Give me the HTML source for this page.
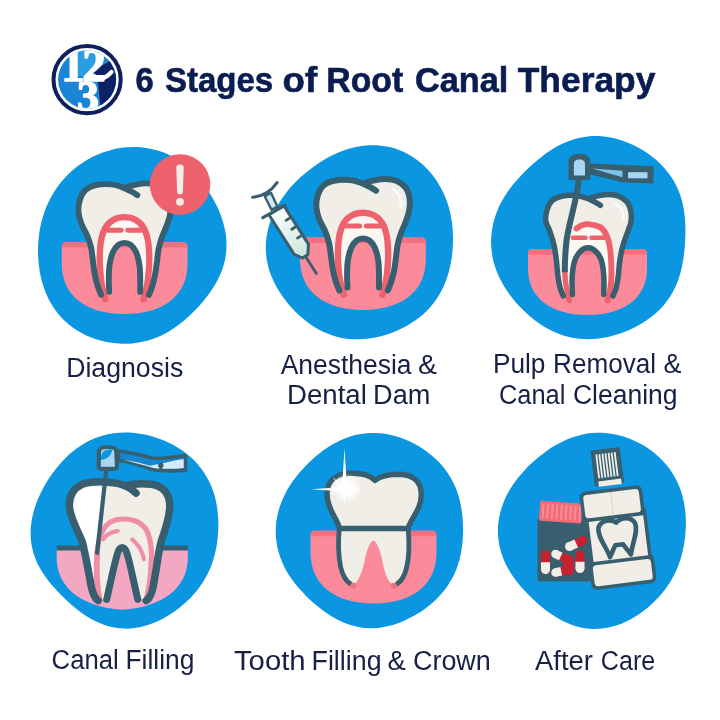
<!DOCTYPE html>
<html lang="en">
<head>
<meta charset="utf-8">
<title>6 Stages of Root Canal Therapy</title>
<style>
html,body{margin:0;padding:0;background:#fff;}
body{width:720px;height:720px;overflow:hidden;}
svg{display:block;will-change:transform;}
text{font-family:"Liberation Sans",sans-serif;fill:#0b1d50;}
.t{font-weight:bold;font-size:35px;stroke:#0b1d50;stroke-width:0.6px;}
.l{font-size:27px;fill:#172045;}
text.lg{font-family:"Liberation Serif",serif;font-weight:bold;fill:#fff;stroke:#fff;stroke-width:1.5px;stroke-linejoin:round;}
</style>
</head>
<body>
<svg width="720" height="720" viewBox="0 0 720 720">
<rect width="720" height="720" fill="#fff"/>
<linearGradient id="syr" x1="0" y1="0" x2="0" y2="1"><stop offset="0" stop-color="#fafdfc"/><stop offset="1" stop-color="#cfe6da"/></linearGradient>
<radialGradient id="glow"><stop offset="0" stop-color="#fff" stop-opacity="1"/><stop offset="0.4" stop-color="#fff" stop-opacity="0.95"/><stop offset="0.7" stop-color="#fff" stop-opacity="0.5"/><stop offset="1" stop-color="#fff" stop-opacity="0"/></radialGradient>

<g>
<circle cx="87.1" cy="79.6" r="33.6" fill="#fff" stroke="#0d1f5c" stroke-width="4"/>
<clipPath id="lc"><circle cx="87.1" cy="79.6" r="29"/></clipPath>
<g clip-path="url(#lc)">
<rect x="50" y="44" width="75" height="72" fill="#1a84d6" stroke="none"/>
<path d="M78,44 H103 V64 L90,76 H78 Z" fill="#2b9de2" stroke="none"/>
<path d="M113,59 L93,71 L98,82 L101,112 L125,112 L125,50 Z" fill="#0e2166" stroke="none"/>
<text class="lg" x="73" y="80.5" text-anchor="middle" style="font-size:47px">1</text>
<path d="M93,75.5 Q102,82.5 111.5,72" fill="none" stroke="#fff" stroke-width="4.2" stroke-linecap="round"/>
<text class="lg" x="94" y="80.5" text-anchor="middle" style="font-size:47px">2</text>
<text class="lg" x="88" y="111" text-anchor="middle" style="font-size:44px">3</text>
</g>
</g>

<text class="t" y="92.3"><tspan x="135.45" textLength="18.23" lengthAdjust="spacingAndGlyphs">6</tspan> <tspan x="164.91" textLength="108.29" lengthAdjust="spacingAndGlyphs">Stages</tspan> <tspan x="282.63" textLength="34.63" lengthAdjust="spacingAndGlyphs">of</tspan> <tspan x="326.30" textLength="77.00" lengthAdjust="spacingAndGlyphs">Root</tspan> <tspan x="414.93" textLength="93.49" lengthAdjust="spacingAndGlyphs">Canal</tspan> <tspan x="517.75" textLength="137.64" lengthAdjust="spacingAndGlyphs">Therapy</tspan></text>
<path d="M38.1,245.7 C38.3,242.4 38.5,239.1 38.9,235.9 C39.3,232.6 39.8,229.4 40.5,226.2 C41.1,223.0 41.9,219.8 42.9,216.7 C43.8,213.5 44.9,210.4 46.1,207.4 C47.4,204.3 48.8,201.3 50.3,198.4 C51.8,195.5 53.5,192.6 55.3,189.9 C57.2,187.1 59.2,184.4 61.3,181.8 C63.4,179.3 65.7,176.8 68.0,174.4 C70.4,172.1 72.9,169.9 75.6,167.8 C78.2,165.7 80.9,163.7 83.8,161.9 C86.6,160.0 89.6,158.4 92.6,156.8 C95.7,155.3 98.8,154.0 102.0,152.8 C105.2,151.6 108.5,150.6 111.8,149.7 C115.1,148.9 118.5,148.2 121.9,147.8 C125.3,147.3 128.7,147.1 132.2,147.0 C135.6,146.9 139.1,147.1 142.5,147.4 C145.9,147.8 149.3,148.4 152.7,149.2 C156.0,149.9 159.3,150.9 162.6,152.1 C165.8,153.3 168.9,154.7 171.9,156.3 C175.0,157.9 177.9,159.7 180.7,161.6 C183.5,163.6 186.1,165.7 188.7,167.9 C191.2,170.1 193.6,172.5 195.9,174.9 C198.2,177.3 200.3,179.9 202.3,182.5 C204.4,185.1 206.3,187.8 208.1,190.5 C209.9,193.3 211.6,196.1 213.1,198.9 C214.7,201.8 216.2,204.7 217.6,207.6 C218.9,210.6 220.2,213.6 221.3,216.7 C222.4,219.8 223.4,222.9 224.1,226.1 C224.9,229.3 225.5,232.6 226.0,235.8 C226.4,239.1 226.6,242.4 226.5,245.7 C226.5,248.9 226.3,252.3 225.8,255.5 C225.3,258.8 224.6,262.0 223.7,265.1 C222.8,268.3 221.7,271.4 220.4,274.3 C219.1,277.3 217.6,280.2 216.0,283.0 C214.5,285.8 212.7,288.5 210.9,291.1 C209.1,293.7 207.2,296.3 205.2,298.7 C203.2,301.2 201.2,303.6 199.1,305.9 C197.0,308.2 194.8,310.5 192.5,312.7 C190.3,314.9 188.0,317.1 185.6,319.2 C183.2,321.3 180.7,323.3 178.1,325.2 C175.5,327.1 172.8,329.0 170.0,330.7 C167.2,332.4 164.3,334.0 161.3,335.4 C158.3,336.8 155.2,338.1 152.0,339.2 C148.9,340.2 145.6,341.1 142.3,341.8 C139.0,342.5 135.6,343.0 132.2,343.4 C128.8,343.7 125.3,343.8 121.9,343.7 C118.4,343.6 114.9,343.3 111.5,342.8 C108.1,342.4 104.6,341.7 101.3,340.8 C97.9,339.9 94.5,338.9 91.2,337.6 C88.0,336.3 84.8,334.8 81.7,333.1 C78.6,331.5 75.6,329.6 72.7,327.5 C69.9,325.4 67.1,323.1 64.6,320.7 C62.1,318.3 59.7,315.7 57.5,312.9 C55.3,310.2 53.3,307.3 51.5,304.3 C49.7,301.3 48.1,298.2 46.7,295.0 C45.3,291.8 44.1,288.6 43.1,285.3 C42.0,282.1 41.2,278.8 40.5,275.4 C39.8,272.1 39.3,268.8 38.9,265.5 C38.5,262.2 38.3,258.9 38.1,255.6 C38.0,252.2 38.0,248.9 38.1,245.7 Z" fill="#0a96e0"/>
<path d="M266.0,242.0 C266.3,238.8 266.7,235.6 267.4,232.4 C268.0,229.3 268.8,226.1 269.8,223.1 C270.8,220.1 271.9,217.1 273.2,214.2 C274.5,211.4 275.9,208.6 277.4,205.8 C279.0,203.1 280.6,200.5 282.4,198.0 C284.1,195.4 286.0,193.0 287.9,190.6 C289.8,188.2 291.9,185.9 293.9,183.7 C296.0,181.5 298.2,179.4 300.4,177.3 C302.7,175.3 305.0,173.3 307.4,171.4 C309.7,169.5 312.2,167.6 314.7,165.9 C317.2,164.1 319.8,162.4 322.5,160.8 C325.2,159.1 327.9,157.6 330.8,156.1 C333.6,154.7 336.5,153.3 339.6,152.1 C342.6,150.8 345.7,149.7 348.9,148.7 C352.1,147.8 355.3,147.0 358.7,146.4 C362.0,145.8 365.4,145.4 368.8,145.2 C372.3,145.1 375.8,145.1 379.2,145.4 C382.6,145.7 386.1,146.3 389.5,147.1 C392.9,147.9 396.3,148.9 399.5,150.2 C402.8,151.5 406.0,153.0 409.0,154.8 C412.1,156.5 415.0,158.5 417.8,160.6 C420.6,162.7 423.3,165.0 425.7,167.5 C428.2,170.0 430.6,172.6 432.7,175.3 C434.9,178.1 436.8,180.9 438.6,183.9 C440.4,186.8 442.1,189.9 443.5,193.0 C445.0,196.1 446.2,199.3 447.3,202.5 C448.4,205.7 449.3,209.0 450.1,212.3 C450.9,215.6 451.4,218.9 451.9,222.2 C452.4,225.5 452.7,228.8 452.8,232.1 C453.0,235.4 453.1,238.7 453.0,242.0 C452.9,245.3 452.7,248.6 452.4,251.9 C452.1,255.1 451.7,258.4 451.1,261.6 C450.5,264.9 449.8,268.1 449.0,271.3 C448.1,274.5 447.1,277.7 445.9,280.8 C444.7,284.0 443.4,287.1 441.9,290.0 C440.3,293.0 438.6,295.9 436.7,298.7 C434.9,301.5 432.8,304.2 430.6,306.7 C428.4,309.3 426.0,311.7 423.5,314.0 C420.9,316.2 418.3,318.3 415.5,320.3 C412.8,322.2 409.9,324.0 407.0,325.7 C404.0,327.3 401.0,328.8 397.9,330.2 C394.9,331.6 391.7,332.8 388.5,333.9 C385.3,335.0 382.1,335.9 378.8,336.7 C375.5,337.5 372.2,338.1 368.8,338.5 C365.5,339.0 362.1,339.3 358.7,339.3 C355.3,339.4 351.9,339.2 348.5,338.9 C345.1,338.5 341.7,337.9 338.4,337.2 C335.1,336.4 331.9,335.3 328.7,334.1 C325.6,332.9 322.5,331.5 319.5,329.9 C316.6,328.3 313.7,326.6 310.9,324.7 C308.2,322.8 305.5,320.8 303.0,318.6 C300.5,316.5 298.0,314.3 295.7,311.9 C293.4,309.6 291.1,307.2 289.0,304.7 C286.9,302.2 284.9,299.6 283.0,297.0 C281.1,294.3 279.3,291.6 277.6,288.8 C276.0,286.0 274.4,283.1 273.1,280.1 C271.7,277.1 270.5,274.1 269.5,271.0 C268.5,267.9 267.7,264.7 267.1,261.5 C266.5,258.3 266.1,255.0 265.9,251.7 C265.7,248.5 265.8,245.2 266.0,242.0 Z" fill="#0a96e0"/>
<path d="M491.2,237.5 C491.4,234.1 491.8,230.8 492.4,227.4 C493.0,224.1 493.8,220.9 494.8,217.7 C495.8,214.5 497.0,211.4 498.3,208.3 C499.6,205.3 501.1,202.4 502.8,199.5 C504.4,196.7 506.2,194.0 508.0,191.3 C509.9,188.7 511.8,186.1 513.9,183.6 C515.9,181.2 518.0,178.8 520.2,176.5 C522.4,174.1 524.6,171.9 526.9,169.6 C529.2,167.4 531.5,165.3 534.0,163.1 C536.4,161.0 538.9,158.9 541.5,156.9 C544.1,154.9 546.7,152.9 549.5,151.1 C552.3,149.2 555.2,147.4 558.2,145.8 C561.2,144.2 564.4,142.7 567.6,141.5 C570.8,140.2 574.2,139.1 577.6,138.3 C581.0,137.4 584.5,136.8 588.0,136.4 C591.5,136.1 595.1,136.0 598.7,136.1 C602.2,136.3 605.8,136.7 609.3,137.3 C612.8,137.9 616.3,138.8 619.7,139.8 C623.2,140.9 626.5,142.2 629.8,143.6 C633.1,145.0 636.3,146.6 639.5,148.3 C642.6,150.1 645.7,152.0 648.6,154.1 C651.5,156.1 654.4,158.4 657.1,160.8 C659.8,163.2 662.4,165.7 664.7,168.4 C667.1,171.1 669.3,174.0 671.3,177.0 C673.3,180.0 675.1,183.1 676.6,186.3 C678.2,189.5 679.5,192.9 680.6,196.3 C681.7,199.6 682.6,203.1 683.3,206.5 C684.0,210.0 684.4,213.5 684.8,216.9 C685.1,220.4 685.3,223.8 685.4,227.3 C685.5,230.7 685.4,234.1 685.3,237.5 C685.2,240.9 685.0,244.3 684.7,247.7 C684.4,251.0 684.0,254.4 683.5,257.8 C683.0,261.2 682.4,264.6 681.7,267.9 C680.9,271.3 680.0,274.7 678.9,278.0 C677.8,281.3 676.5,284.6 675.0,287.7 C673.5,290.9 671.8,294.0 669.8,297.0 C667.9,299.9 665.8,302.8 663.5,305.4 C661.1,308.1 658.6,310.6 656.0,313.0 C653.3,315.4 650.5,317.5 647.6,319.6 C644.7,321.6 641.7,323.5 638.6,325.2 C635.6,326.9 632.4,328.5 629.2,329.9 C625.9,331.4 622.6,332.7 619.3,333.8 C615.9,334.9 612.5,335.9 609.1,336.7 C605.6,337.5 602.1,338.2 598.6,338.6 C595.1,339.1 591.5,339.3 588.0,339.3 C584.5,339.3 580.9,339.1 577.4,338.6 C573.9,338.2 570.4,337.5 566.9,336.6 C563.5,335.6 560.2,334.5 556.9,333.1 C553.7,331.8 550.5,330.2 547.5,328.5 C544.4,326.9 541.5,325.0 538.6,323.0 C535.8,321.0 533.1,318.9 530.5,316.7 C527.8,314.5 525.3,312.2 522.9,309.8 C520.5,307.4 518.1,305.0 515.9,302.4 C513.7,299.8 511.6,297.2 509.6,294.5 C507.6,291.8 505.7,289.0 503.9,286.0 C502.2,283.1 500.5,280.1 499.1,277.1 C497.7,274.0 496.4,270.8 495.3,267.6 C494.2,264.4 493.3,261.1 492.7,257.8 C492.0,254.4 491.5,251.0 491.3,247.7 C491.0,244.3 491.0,240.9 491.2,237.5 Z" fill="#0a96e0"/>
<path d="M30.6,531.2 C30.7,527.9 31.0,524.6 31.5,521.4 C32.0,518.2 32.7,515.0 33.5,511.9 C34.4,508.7 35.4,505.7 36.6,502.6 C37.7,499.6 39.0,496.7 40.4,493.8 C41.8,490.9 43.3,488.1 44.8,485.3 C46.4,482.5 48.1,479.8 49.9,477.1 C51.7,474.4 53.6,471.8 55.6,469.3 C57.6,466.7 59.7,464.2 61.9,461.8 C64.1,459.4 66.4,457.0 68.9,454.8 C71.3,452.6 73.9,450.5 76.6,448.5 C79.3,446.5 82.1,444.7 85.1,443.0 C88.0,441.4 91.1,439.8 94.2,438.6 C97.4,437.3 100.7,436.2 104.0,435.3 C107.3,434.4 110.6,433.7 114.0,433.3 C117.4,432.8 120.9,432.6 124.3,432.5 C127.8,432.5 131.2,432.6 134.7,433.0 C138.1,433.3 141.5,433.9 144.9,434.6 C148.2,435.3 151.6,436.2 154.9,437.2 C158.2,438.2 161.4,439.4 164.6,440.8 C167.7,442.1 170.9,443.7 173.9,445.3 C176.9,447.0 179.9,448.8 182.7,450.8 C185.5,452.8 188.3,455.0 190.8,457.3 C193.4,459.6 195.8,462.1 198.1,464.8 C200.3,467.4 202.4,470.2 204.3,473.0 C206.2,475.9 207.9,479.0 209.4,482.1 C210.9,485.1 212.2,488.3 213.3,491.6 C214.4,494.8 215.2,498.1 216.0,501.4 C216.7,504.7 217.2,508.0 217.6,511.3 C218.0,514.7 218.2,518.0 218.3,521.3 C218.4,524.6 218.4,527.9 218.2,531.2 C218.0,534.4 217.8,537.7 217.3,540.9 C216.9,544.2 216.4,547.4 215.7,550.6 C215.0,553.8 214.2,556.9 213.2,560.0 C212.2,563.1 211.1,566.2 209.8,569.2 C208.5,572.2 207.0,575.1 205.4,578.0 C203.8,580.8 202.0,583.6 200.1,586.2 C198.2,588.9 196.2,591.5 194.0,593.9 C191.9,596.4 189.6,598.7 187.2,601.0 C184.8,603.3 182.3,605.4 179.8,607.5 C177.2,609.5 174.5,611.5 171.8,613.3 C169.0,615.1 166.1,616.9 163.2,618.5 C160.3,620.0 157.2,621.5 154.1,622.8 C151.0,624.1 147.8,625.2 144.5,626.1 C141.2,627.0 137.9,627.7 134.5,628.1 C131.2,628.5 127.7,628.7 124.3,628.6 C120.9,628.6 117.5,628.2 114.2,627.6 C110.9,627.0 107.6,626.1 104.4,625.0 C101.2,623.9 98.1,622.6 95.1,621.1 C92.1,619.6 89.3,617.9 86.5,616.2 C83.7,614.4 81.1,612.5 78.5,610.5 C76.0,608.5 73.5,606.5 71.1,604.4 C68.7,602.3 66.4,600.2 64.2,598.0 C61.9,595.8 59.7,593.6 57.5,591.3 C55.4,589.0 53.3,586.7 51.2,584.3 C49.2,581.8 47.2,579.3 45.4,576.7 C43.6,574.1 41.8,571.4 40.2,568.6 C38.6,565.8 37.2,562.9 35.9,559.9 C34.7,556.9 33.6,553.8 32.8,550.6 C32.0,547.5 31.4,544.2 31.0,541.0 C30.7,537.7 30.5,534.4 30.6,531.2 Z" fill="#0a96e0"/>
<path d="M275.7,530.8 C275.7,527.6 276.0,524.3 276.4,521.1 C276.9,517.8 277.5,514.6 278.3,511.5 C279.2,508.3 280.2,505.2 281.4,502.2 C282.5,499.2 283.9,496.2 285.4,493.4 C286.8,490.5 288.5,487.7 290.2,485.1 C291.9,482.4 293.8,479.8 295.8,477.3 C297.7,474.7 299.7,472.3 301.9,469.9 C304.0,467.6 306.2,465.3 308.5,463.0 C310.7,460.8 313.1,458.6 315.5,456.6 C318.0,454.5 320.5,452.4 323.1,450.5 C325.8,448.6 328.5,446.8 331.3,445.1 C334.2,443.4 337.1,441.8 340.1,440.4 C343.1,439.0 346.3,437.7 349.5,436.7 C352.7,435.7 356.0,434.8 359.3,434.2 C362.7,433.6 366.1,433.2 369.5,433.0 C372.9,432.9 376.4,433.0 379.8,433.3 C383.2,433.6 386.6,434.1 389.9,434.8 C393.3,435.5 396.6,436.5 399.8,437.6 C403.0,438.6 406.2,439.9 409.3,441.3 C412.4,442.8 415.5,444.4 418.4,446.1 C421.4,447.8 424.2,449.7 427.0,451.7 C429.7,453.7 432.4,455.9 434.9,458.2 C437.4,460.5 439.8,463.0 442.0,465.5 C444.2,468.1 446.3,470.9 448.2,473.7 C450.0,476.5 451.7,479.5 453.2,482.5 C454.7,485.5 456.0,488.6 457.2,491.8 C458.3,495.0 459.2,498.2 460.0,501.4 C460.8,504.7 461.3,507.9 461.8,511.2 C462.3,514.5 462.6,517.8 462.8,521.0 C463.0,524.3 463.1,527.6 463.1,530.8 C463.0,534.1 462.9,537.4 462.6,540.6 C462.4,543.9 462.0,547.1 461.4,550.4 C460.9,553.6 460.2,556.8 459.4,560.0 C458.5,563.2 457.5,566.4 456.3,569.5 C455.1,572.5 453.7,575.6 452.1,578.5 C450.5,581.4 448.7,584.3 446.8,587.0 C444.9,589.7 442.8,592.3 440.5,594.8 C438.3,597.3 435.9,599.6 433.4,601.9 C431.0,604.1 428.4,606.2 425.7,608.2 C423.0,610.2 420.2,612.0 417.4,613.8 C414.5,615.5 411.6,617.2 408.6,618.6 C405.6,620.1 402.5,621.5 399.4,622.7 C396.2,623.9 393.0,625.0 389.7,625.8 C386.4,626.6 383.0,627.3 379.7,627.7 C376.3,628.1 372.9,628.2 369.5,628.2 C366.1,628.1 362.7,627.7 359.4,627.2 C356.0,626.6 352.7,625.8 349.5,624.8 C346.3,623.7 343.2,622.5 340.2,621.0 C337.2,619.6 334.3,618.0 331.4,616.3 C328.6,614.6 325.9,612.8 323.3,610.8 C320.7,608.9 318.2,606.9 315.7,604.8 C313.3,602.8 310.9,600.6 308.6,598.4 C306.3,596.2 304.1,594.0 302.0,591.6 C299.8,589.3 297.7,586.9 295.8,584.4 C293.8,581.9 291.9,579.4 290.1,576.7 C288.3,574.0 286.6,571.2 285.1,568.4 C283.6,565.5 282.2,562.6 281.1,559.6 C279.9,556.5 278.9,553.4 278.1,550.3 C277.3,547.1 276.7,543.9 276.3,540.6 C275.9,537.4 275.7,534.1 275.7,530.8 Z" fill="#0a96e0"/>
<path d="M497.9,531.2 C497.9,527.9 498.1,524.6 498.5,521.3 C499.0,518.1 499.6,514.9 500.5,511.7 C501.3,508.6 502.3,505.4 503.5,502.4 C504.7,499.4 506.1,496.5 507.6,493.6 C509.1,490.8 510.8,488.0 512.6,485.3 C514.4,482.7 516.3,480.1 518.3,477.6 C520.2,475.1 522.3,472.7 524.5,470.4 C526.6,468.1 528.9,465.8 531.2,463.6 C533.5,461.5 535.9,459.4 538.3,457.3 C540.8,455.3 543.3,453.3 546.0,451.4 C548.6,449.6 551.3,447.8 554.1,446.1 C556.9,444.4 559.8,442.8 562.8,441.4 C565.8,439.9 568.9,438.6 572.1,437.5 C575.3,436.4 578.5,435.4 581.9,434.7 C585.2,433.9 588.6,433.4 592.0,433.1 C595.4,432.8 598.9,432.7 602.3,432.8 C605.8,433.0 609.3,433.3 612.7,433.9 C616.1,434.5 619.5,435.3 622.8,436.3 C626.2,437.3 629.5,438.5 632.7,439.9 C635.9,441.2 639.0,442.8 642.0,444.5 C645.0,446.3 648.0,448.2 650.8,450.2 C653.6,452.3 656.3,454.5 658.9,456.9 C661.4,459.3 663.9,461.8 666.1,464.5 C668.3,467.1 670.4,469.9 672.3,472.9 C674.1,475.8 675.8,478.8 677.3,481.9 C678.8,485.0 680.0,488.3 681.1,491.5 C682.2,494.7 683.0,498.0 683.7,501.4 C684.4,504.7 684.9,508.0 685.3,511.3 C685.6,514.7 685.8,518.0 685.9,521.3 C685.9,524.6 685.8,527.9 685.6,531.2 C685.4,534.4 685.0,537.7 684.6,540.9 C684.1,544.1 683.5,547.3 682.8,550.5 C682.1,553.6 681.3,556.8 680.3,559.8 C679.3,562.9 678.2,566.0 676.9,569.0 C675.6,571.9 674.2,574.9 672.6,577.7 C671.1,580.6 669.4,583.4 667.5,586.0 C665.7,588.7 663.7,591.3 661.6,593.8 C659.5,596.3 657.3,598.8 654.9,601.1 C652.6,603.4 650.2,605.6 647.6,607.7 C645.1,609.8 642.4,611.8 639.7,613.7 C636.9,615.6 634.1,617.4 631.1,619.0 C628.2,620.6 625.1,622.1 622.0,623.4 C618.8,624.6 615.6,625.8 612.3,626.6 C609.0,627.5 605.6,628.2 602.2,628.6 C598.9,628.9 595.4,629.1 592.0,628.9 C588.6,628.8 585.2,628.4 581.8,627.7 C578.5,627.1 575.2,626.2 572.0,625.0 C568.9,623.9 565.8,622.6 562.8,621.1 C559.8,619.6 556.9,617.9 554.2,616.1 C551.4,614.3 548.8,612.4 546.2,610.5 C543.7,608.5 541.2,606.5 538.8,604.4 C536.4,602.3 534.1,600.2 531.8,598.0 C529.6,595.8 527.4,593.6 525.2,591.3 C523.1,589.0 521.0,586.7 519.0,584.2 C517.0,581.8 515.0,579.3 513.2,576.7 C511.4,574.1 509.6,571.3 508.1,568.5 C506.5,565.7 505.0,562.8 503.8,559.8 C502.5,556.8 501.4,553.7 500.6,550.6 C499.7,547.5 499.0,544.2 498.6,541.0 C498.1,537.7 497.9,534.4 497.9,531.2 Z" fill="#0a96e0"/>
<path d="M66.2,242.2 H183.0 Q187.5,242.2 187.5,246.7 V263.7 C187.5,295.3 163.6,314 124.6,314 C85.6,314 61.7,295.3 61.7,263.7 V246.7 Q61.7,242.2 66.2,242.2 Z" fill="#fb8a9b"/>
<path d="M66.2,242.2 H183.0 Q187.5,242.2 187.5,246.7 V247.6 H61.7 V246.7 Q61.7,242.2 66.2,242.2 Z" fill="#f2707f"/>
<g fill="none" stroke-linecap="round" stroke-linejoin="round">
<path d="M137.3,195.1 C136.2,194.4 133.4,192.5 130.8,191.2 C128.2,189.9 125.1,188.2 121.8,187.1 C118.5,186.0 115.4,184.7 111.1,184.4 C106.8,184.0 100.0,184.2 95.8,185.2 C91.5,186.1 88.1,187.5 85.4,190.0 C82.7,192.6 80.8,196.8 79.7,200.5 C78.5,204.2 78.2,208.3 78.5,212.2 C78.8,216.1 80.0,220.0 81.4,223.8 C82.8,227.7 85.6,231.6 87.2,235.5 C88.7,239.4 90.0,243.0 91.0,247.2 C91.9,251.4 92.3,256.3 92.9,260.8 C93.5,265.3 94.0,270.2 94.8,274.4 C95.6,278.6 96.6,282.7 97.7,286.1 C98.7,289.5 100.6,293.4 101.1,294.8 L109.2,291.9 C109.1,289.6 108.7,282.8 108.8,278.3 C108.9,273.8 108.9,269.1 109.6,264.7 C110.3,260.3 111.5,255.3 113.0,252.0 C114.5,248.7 116.5,246.4 118.4,244.8 C120.3,243.3 122.5,242.9 124.5,242.9 C126.5,242.9 128.7,243.3 130.6,244.8 C132.5,246.4 134.5,248.7 136.0,252.0 C137.5,255.3 138.7,260.3 139.4,264.7 C140.1,269.1 140.1,273.8 140.2,278.3 C140.3,282.8 140.2,289.6 140.2,291.9 L149.0,294.8 C149.6,293.4 151.2,289.5 152.3,286.1 C153.3,282.7 154.3,278.6 155.1,274.4 C155.9,270.2 156.5,265.0 157.1,260.8 C157.6,256.6 157.8,253.0 158.6,249.1 C159.4,245.2 160.5,241.3 161.8,237.5 C163.2,233.6 165.3,229.7 166.6,225.8 C168.0,221.9 169.5,218.0 170.1,214.1 C170.7,210.2 170.9,206.2 170.3,202.5 C169.6,198.7 168.5,194.6 166.3,191.8 C164.0,188.9 160.3,186.5 157.1,185.2 C153.8,183.8 150.0,183.5 146.5,183.4 C143.0,183.3 139.2,184.0 136.0,184.6 C132.8,185.2 128.6,186.5 127.2,186.9 Z" fill="#f0eee6"/>
<path d="M105.3,299.3 C104.8,297.1 103.0,290.9 102.1,286.1 C101.2,281.3 100.6,275.7 100.2,270.5 C99.8,265.3 99.6,260.1 99.8,255.0 C100.0,249.8 100.3,244.0 101.3,239.4 C102.3,234.8 103.6,230.5 105.7,227.2 C107.9,223.8 111.0,221.0 114.2,219.4 C117.3,217.7 121.1,217.2 124.5,217.2 C127.9,217.2 131.7,217.7 134.8,219.4 C138.0,221.0 141.1,223.8 143.3,227.2 C145.4,230.5 146.7,234.8 147.7,239.4 C148.7,244.0 149.0,249.8 149.2,255.0 C149.4,260.1 149.2,265.3 148.8,270.5 C148.4,275.7 147.8,281.3 146.9,286.1 C146.0,290.9 144.2,297.1 143.7,299.3 L140.2,291.9 C140.2,289.6 140.3,282.8 140.2,278.3 C140.1,273.8 140.1,269.1 139.4,264.7 C138.7,260.3 137.5,255.3 136.0,252.0 C134.5,248.7 132.5,246.4 130.6,244.8 C128.7,243.3 126.5,242.9 124.5,242.9 C122.5,242.9 120.3,243.3 118.4,244.8 C116.5,246.4 114.5,248.7 113.0,252.0 C111.5,255.3 110.3,260.3 109.6,264.7 C108.9,269.1 108.9,273.8 108.8,278.3 C108.7,282.8 109.1,289.6 109.2,291.9 Z" fill="#fbf7f2"/>
<path d="M105.3,299.3 C104.8,297.1 103.0,290.9 102.1,286.1 C101.2,281.3 100.6,275.7 100.2,270.5 C99.8,265.3 99.6,260.1 99.8,255.0 C100.0,249.8 100.3,244.0 101.3,239.4 C102.3,234.8 103.6,230.5 105.7,227.2 C107.9,223.8 111.0,221.0 114.2,219.4 C117.3,217.7 121.1,217.2 124.5,217.2 C127.9,217.2 131.7,217.7 134.8,219.4 C138.0,221.0 141.1,223.8 143.3,227.2 C145.4,230.5 146.7,234.8 147.7,239.4 C148.7,244.0 149.0,249.8 149.2,255.0 C149.4,260.1 149.2,265.3 148.8,270.5 C148.4,275.7 147.8,281.3 146.9,286.1 C146.0,290.9 144.2,297.1 143.7,299.3" stroke="#ee626e" stroke-width="6.30"/>
<path d="M107.6,230.3 L121.2,230.3 M127.8,230.3 L141.4,230.3" stroke="#ee626e" stroke-width="4.92"/>
<path d="M109.2,291.9 C109.1,289.6 108.7,282.8 108.8,278.3 C108.9,273.8 108.9,269.1 109.6,264.7 C110.3,260.3 111.5,255.3 113.0,252.0 C114.5,248.7 116.5,246.4 118.4,244.8 C120.3,243.3 122.5,242.9 124.5,242.9 C126.5,242.9 128.7,243.3 130.6,244.8 C132.5,246.4 134.5,248.7 136.0,252.0 C137.5,255.3 138.7,260.3 139.4,264.7 C140.1,269.1 140.1,273.8 140.2,278.3 C140.3,282.8 140.2,289.6 140.2,291.9" stroke="#385f6f" stroke-width="5.91"/>
<path d="M137.3,195.1 C136.2,194.4 133.4,192.5 130.8,191.2 C128.2,189.9 125.1,188.2 121.8,187.1 C118.5,186.0 115.4,184.7 111.1,184.4 C106.8,184.0 100.0,184.2 95.8,185.2 C91.5,186.1 88.1,187.5 85.4,190.0 C82.7,192.6 80.8,196.8 79.7,200.5 C78.5,204.2 78.2,208.3 78.5,212.2 C78.8,216.1 80.0,220.0 81.4,223.8 C82.8,227.7 85.6,231.6 87.2,235.5 C88.7,239.4 90.0,243.0 91.0,247.2 C91.9,251.4 92.3,256.3 92.9,260.8 C93.5,265.3 94.0,270.2 94.8,274.4 C95.6,278.6 96.6,282.7 97.7,286.1 C98.7,289.5 100.6,293.4 101.1,294.8" stroke="#385f6f" stroke-width="5.91"/>
<path d="M127.2,186.9 C128.6,186.5 132.8,185.2 136.0,184.6 C139.2,184.0 143.0,183.3 146.5,183.4 C150.0,183.5 153.8,183.8 157.1,185.2 C160.3,186.5 164.0,188.9 166.3,191.8 C168.5,194.6 169.6,198.7 170.3,202.5 C170.9,206.2 170.7,210.2 170.1,214.1 C169.5,218.0 168.0,221.9 166.6,225.8 C165.3,229.7 163.2,233.6 161.8,237.5 C160.5,241.3 159.4,245.2 158.6,249.1 C157.8,253.0 157.6,256.6 157.1,260.8 C156.5,265.0 155.9,270.2 155.1,274.4 C154.3,278.6 153.3,282.7 152.3,286.1 C151.2,289.5 149.6,293.4 149.0,294.8" stroke="#385f6f" stroke-width="5.91"/>
</g>
<circle cx="180" cy="184.5" r="30.3" fill="#ee626e"/>
<path d="M176.3,167.5 Q176.3,164.6 180,164.6 Q183.7,164.6 183.7,167.5 L182.9,192 Q182.8,194.4 180,194.4 Q177.2,194.4 177.1,192 Z" fill="#f7ece4"/><circle cx="180" cy="201.8" r="3.9" fill="#f7ece4"/>
<path d="M304.5,237.6 H421.3 Q425.8,237.6 425.8,242.1 V259.3 C425.8,291.2 401.9,310 362.9,310 C323.9,310 300,291.2 300,259.3 V242.1 Q300,237.6 304.5,237.6 Z" fill="#fb8a9b"/>
<path d="M304.5,237.6 H421.3 Q425.8,237.6 425.8,242.1 V243.0 H300 V242.1 Q300,237.6 304.5,237.6 Z" fill="#f2707f"/>
<g fill="none" stroke-linecap="round" stroke-linejoin="round">
<path d="M376.1,190.7 C375.0,190.0 372.1,188.1 369.5,186.8 C366.8,185.4 363.7,183.8 360.3,182.7 C357.0,181.6 353.9,180.3 349.4,180.0 C345.0,179.6 338.2,179.8 333.9,180.7 C329.5,181.7 326.1,183.1 323.4,185.6 C320.7,188.2 318.7,192.4 317.6,196.1 C316.4,199.8 316.1,203.9 316.4,207.8 C316.7,211.7 317.8,215.6 319.3,219.4 C320.8,223.3 323.5,227.2 325.1,231.1 C326.8,235.0 328.1,238.6 329.0,242.8 C330.0,247.0 330.3,251.8 331.0,256.4 C331.6,260.9 332.1,265.8 332.9,270.0 C333.7,274.2 334.8,278.3 335.8,281.7 C336.9,285.1 338.7,289.0 339.3,290.4 L347.5,287.5 C347.4,285.2 347.0,278.4 347.1,273.9 C347.2,269.3 347.2,264.7 347.9,260.3 C348.6,255.9 349.9,250.9 351.4,247.6 C352.9,244.3 354.9,242.0 356.8,240.4 C358.8,238.9 361.0,238.5 363.1,238.5 C365.1,238.5 367.3,238.9 369.3,240.4 C371.2,242.0 373.2,244.3 374.7,247.6 C376.2,250.9 377.5,255.9 378.2,260.3 C378.9,264.7 378.9,269.3 379.0,273.9 C379.1,278.4 379.0,285.2 379.0,287.5 L387.9,290.4 C388.5,289.0 390.2,285.1 391.2,281.7 C392.3,278.3 393.4,274.2 394.2,270.0 C395.0,265.8 395.5,260.6 396.1,256.4 C396.7,252.2 396.9,248.6 397.7,244.7 C398.5,240.8 399.6,236.9 401.0,233.1 C402.3,229.2 404.4,225.3 405.8,221.4 C407.2,217.5 408.7,213.6 409.3,209.7 C409.9,205.8 410.2,201.8 409.5,198.1 C408.9,194.3 407.7,190.2 405.4,187.4 C403.2,184.5 399.4,182.1 396.1,180.7 C392.8,179.4 389.0,179.1 385.4,179.0 C381.8,178.9 378.0,179.6 374.7,180.2 C371.4,180.7 367.3,182.1 365.8,182.5 Z" fill="#f0eee6"/>
<path d="M393.2,189.3 C394.1,190.1 397.1,192.2 398.4,194.2 C399.7,196.1 400.5,198.9 401.0,201.0 C401.4,203.1 401.0,205.8 401.0,206.8" stroke="#fff" stroke-width="3.20" opacity="0.75"/>
<path d="M343.6,294.9 C343.1,292.7 341.2,286.5 340.3,281.7 C339.4,276.9 338.7,271.3 338.4,266.1 C338.0,260.9 337.8,255.7 338.0,250.6 C338.2,245.4 338.5,239.6 339.5,235.0 C340.5,230.4 341.8,226.1 344.0,222.7 C346.2,219.4 349.4,216.6 352.6,215.0 C355.7,213.3 359.6,212.8 363.1,212.8 C366.6,212.8 370.4,213.3 373.6,215.0 C376.7,216.6 379.9,219.4 382.1,222.7 C384.3,226.1 385.6,230.4 386.6,235.0 C387.6,239.6 387.9,245.4 388.1,250.6 C388.3,255.7 388.1,260.9 387.7,266.1 C387.4,271.3 386.7,276.9 385.8,281.7 C384.9,286.5 383.0,292.7 382.5,294.9 L379.0,287.5 C379.0,285.2 379.1,278.4 379.0,273.9 C378.9,269.3 378.9,264.7 378.2,260.3 C377.5,255.9 376.2,250.9 374.7,247.6 C373.2,244.3 371.2,242.0 369.3,240.4 C367.3,238.9 365.1,238.5 363.1,238.5 C361.0,238.5 358.8,238.9 356.8,240.4 C354.9,242.0 352.9,244.3 351.4,247.6 C349.9,250.9 348.6,255.9 347.9,260.3 C347.2,264.7 347.2,269.3 347.1,273.9 C347.0,278.4 347.4,285.2 347.5,287.5 Z" fill="#fbf7f2"/>
<path d="M343.6,294.9 C343.1,292.7 341.2,286.5 340.3,281.7 C339.4,276.9 338.7,271.3 338.4,266.1 C338.0,260.9 337.8,255.7 338.0,250.6 C338.2,245.4 338.5,239.6 339.5,235.0 C340.5,230.4 341.8,226.1 344.0,222.7 C346.2,219.4 349.4,216.6 352.6,215.0 C355.7,213.3 359.6,212.8 363.1,212.8 C366.6,212.8 370.4,213.3 373.6,215.0 C376.7,216.6 379.9,219.4 382.1,222.7 C384.3,226.1 385.6,230.4 386.6,235.0 C387.6,239.6 387.9,245.4 388.1,250.6 C388.3,255.7 388.1,260.9 387.7,266.1 C387.4,271.3 386.7,276.9 385.8,281.7 C384.9,286.5 383.0,292.7 382.5,294.9" stroke="#ee626e" stroke-width="6.40"/>
<path d="M345.9,225.9 L359.7,225.9 M366.4,225.9 L380.2,225.9" stroke="#ee626e" stroke-width="5.00"/>
<path d="M347.5,287.5 C347.4,285.2 347.0,278.4 347.1,273.9 C347.2,269.3 347.2,264.7 347.9,260.3 C348.6,255.9 349.9,250.9 351.4,247.6 C352.9,244.3 354.9,242.0 356.8,240.4 C358.8,238.9 361.0,238.5 363.1,238.5 C365.1,238.5 367.3,238.9 369.3,240.4 C371.2,242.0 373.2,244.3 374.7,247.6 C376.2,250.9 377.5,255.9 378.2,260.3 C378.9,264.7 378.9,269.3 379.0,273.9 C379.1,278.4 379.0,285.2 379.0,287.5" stroke="#385f6f" stroke-width="6.00"/>
<path d="M376.1,190.7 C375.0,190.0 372.1,188.1 369.5,186.8 C366.8,185.4 363.7,183.8 360.3,182.7 C357.0,181.6 353.9,180.3 349.4,180.0 C345.0,179.6 338.2,179.8 333.9,180.7 C329.5,181.7 326.1,183.1 323.4,185.6 C320.7,188.2 318.7,192.4 317.6,196.1 C316.4,199.8 316.1,203.9 316.4,207.8 C316.7,211.7 317.8,215.6 319.3,219.4 C320.8,223.3 323.5,227.2 325.1,231.1 C326.8,235.0 328.1,238.6 329.0,242.8 C330.0,247.0 330.3,251.8 331.0,256.4 C331.6,260.9 332.1,265.8 332.9,270.0 C333.7,274.2 334.8,278.3 335.8,281.7 C336.9,285.1 338.7,289.0 339.3,290.4" stroke="#385f6f" stroke-width="6.00"/>
<path d="M365.8,182.5 C367.3,182.1 371.4,180.7 374.7,180.2 C378.0,179.6 381.8,178.9 385.4,179.0 C389.0,179.1 392.8,179.4 396.1,180.7 C399.4,182.1 403.2,184.5 405.4,187.4 C407.7,190.2 408.9,194.3 409.5,198.1 C410.2,201.8 409.9,205.8 409.3,209.7 C408.7,213.6 407.2,217.5 405.8,221.4 C404.4,225.3 402.3,229.2 401.0,233.1 C399.6,236.9 398.5,240.8 397.7,244.7 C396.9,248.6 396.7,252.2 396.1,256.4 C395.5,260.6 395.0,265.8 394.2,270.0 C393.4,274.2 392.3,278.3 391.2,281.7 C390.2,285.1 388.5,289.0 387.9,290.4" stroke="#385f6f" stroke-width="6.00"/>
</g>
<g fill="none" stroke-linecap="round" stroke-linejoin="round">
<path d="M264.7,196.2 L271.5,209.7 L277.4,206.5 L271.1,192.9 Z" fill="#cdeaf0" stroke="#385f6f" stroke-width="2.4"/>
<path d="M252.6,197.3 Q268.4,195.5 277,182.6" stroke="#385f6f" stroke-width="3"/>
<g transform="translate(274 211.5) rotate(-32.5)">
<path d="M2.5,52 L2.5,75" stroke="#385f6f" stroke-width="2.8"/>
<path d="M-6,0 L11.5,0 L11.5,46 L5.5,54.5 L-1,54.5 L-6,47 Z" fill="url(#syr)" stroke="#385f6f" stroke-width="3"/>
<path d="M-12.8,-0.8 L12.7,0.8" stroke="#385f6f" stroke-width="3.2"/>
<path d="M5.5,14 H10.5 M5.5,24.5 H10.5 M5.5,35 H10.5" stroke="#385f6f" stroke-width="2.8"/>
</g>
</g>
<path d="M532.5,249 H642.5 Q647,249 647,253.5 V268.8 C647,297.8 624.4,315 587.5,315 C550.6,315 528,297.8 528,268.8 V253.5 Q528,249 532.5,249 Z" fill="#fb8a9b"/>
<path d="M532.5,249 H642.5 Q647,249 647,253.5 V254.4 H528 V253.5 Q528,249 532.5,249 Z" fill="#f2707f"/>
<g fill="none" stroke-linecap="round" stroke-linejoin="round">
<path d="M600.4,205.3 C599.4,204.7 596.8,202.9 594.4,201.7 C592.0,200.5 589.1,199.0 586.0,198.0 C583.0,196.9 580.1,195.8 576.0,195.5 C572.0,195.2 565.8,195.3 561.8,196.2 C557.8,197.0 554.7,198.3 552.2,200.6 C549.7,203.0 547.9,206.9 546.9,210.3 C545.8,213.7 545.4,217.7 545.8,221.0 C546.2,224.4 548.1,226.2 549.5,230.3 C550.9,234.4 553.0,240.5 554.1,245.6 C555.2,250.7 555.8,255.7 556.4,260.8 C557.0,265.9 557.3,271.5 557.9,276.1 C558.5,280.7 559.3,285.0 560.2,288.3 C561.1,291.6 562.8,294.7 563.3,296.0 L572.4,294.4 C572.4,291.3 571.8,281.7 572.2,276.1 C572.6,270.5 573.3,265.0 574.7,260.8 C576.1,256.6 578.5,253.1 580.8,250.9 C583.1,248.7 586.0,247.7 588.5,247.8 C591.0,247.9 593.9,249.5 596.1,251.7 C598.3,253.9 600.2,256.7 601.5,260.8 C602.8,264.9 603.4,270.5 603.8,276.1 C604.2,281.7 603.8,291.3 603.8,294.4 L612.9,296.0 C613.4,294.7 615.1,291.6 616.0,288.3 C616.9,285.0 617.7,280.7 618.3,276.1 C618.9,271.5 619.0,265.9 619.8,260.8 C620.6,255.7 621.5,250.7 622.9,245.6 C624.3,240.5 626.9,234.1 628.2,230.3 C629.5,226.5 630.4,225.9 630.8,222.8 C631.3,219.8 631.6,215.5 631.0,212.1 C630.4,208.7 629.3,204.9 627.3,202.3 C625.2,199.6 621.8,197.5 618.7,196.2 C615.7,194.9 612.2,194.7 609.0,194.6 C605.7,194.5 602.2,195.1 599.2,195.6 C596.2,196.2 592.4,197.4 591.0,197.8 Z" fill="#f0eee6"/>
<path d="M616.1,204.0 C616.9,204.8 619.7,206.7 620.9,208.5 C622.1,210.3 622.8,212.8 623.2,214.8 C623.6,216.7 623.2,219.2 623.2,220.1" stroke="#fff" stroke-width="2.93" opacity="0.75"/>
<path d="M569.4,300.6 C568.9,298.6 567.1,293.0 566.3,288.3 C565.5,283.6 564.8,277.9 564.8,272.3 C564.8,266.8 565.3,260.4 566.0,255.0 C566.7,249.6 567.2,244.4 569.0,240.0 C570.8,235.6 574.3,230.9 576.5,228.5 C578.7,226.1 580.0,226.0 582.0,225.3 C584.0,224.6 585.4,223.8 588.5,224.2 C591.6,224.6 597.5,225.2 600.7,227.5 C603.9,229.8 606.0,233.6 607.6,237.9 C609.2,242.2 610.0,246.8 610.6,253.2 C611.2,259.6 611.5,269.7 611.4,276.1 C611.3,282.5 610.5,287.3 609.9,291.4 C609.3,295.5 608.0,299.1 607.6,300.6 L603.8,294.4 C603.8,291.3 604.2,281.7 603.8,276.1 C603.4,270.5 602.8,264.9 601.5,260.8 C600.2,256.7 598.3,253.9 596.1,251.7 C593.9,249.5 591.0,247.9 588.5,247.8 C586.0,247.7 583.1,248.7 580.8,250.9 C578.5,253.1 576.1,256.6 574.7,260.8 C573.3,265.0 572.6,270.5 572.2,276.1 C571.8,281.7 572.4,291.3 572.4,294.4 Z" fill="#fbf7f2"/>
<path d="M576.5,228.5 C577.4,228.0 580.0,226.0 582.0,225.3 C584.0,224.6 585.4,223.8 588.5,224.2 C591.6,224.6 597.5,225.2 600.7,227.5 C603.9,229.8 606.0,233.6 607.6,237.9 C609.2,242.2 610.0,246.8 610.6,253.2 C611.2,259.6 611.5,269.7 611.4,276.1 C611.3,282.5 610.5,287.3 609.9,291.4 C609.3,295.5 608.0,299.1 607.6,300.6" stroke="#ee626e" stroke-width="5.86"/>
<path d="M572.8,237.7 L585.5,237.7 M591.5,237.7 L604.2,237.7" stroke="#ee626e" stroke-width="4.58"/>
<path d="M564.8,271 C565,280 566.3,290 569.4,300.6" stroke="#ee626e" stroke-width="5.4"/>
<path d="M572.4,294.4 C572.4,291.3 571.8,281.7 572.2,276.1 C572.6,270.5 573.3,265.0 574.7,260.8 C576.1,256.6 578.5,253.1 580.8,250.9 C583.1,248.7 586.0,247.7 588.5,247.8 C591.0,247.9 593.9,249.5 596.1,251.7 C598.3,253.9 600.2,256.7 601.5,260.8 C602.8,264.9 603.4,270.5 603.8,276.1 C604.2,281.7 603.8,291.3 603.8,294.4" stroke="#385f6f" stroke-width="5.49"/>
<path d="M600.4,205.3 C599.4,204.7 596.8,202.9 594.4,201.7 C592.0,200.5 589.1,199.0 586.0,198.0 C583.0,196.9 580.1,195.8 576.0,195.5 C572.0,195.2 565.8,195.3 561.8,196.2 C557.8,197.0 554.7,198.3 552.2,200.6 C549.7,203.0 547.9,206.9 546.9,210.3 C545.8,213.7 545.4,217.7 545.8,221.0 C546.2,224.4 548.1,226.2 549.5,230.3 C550.9,234.4 553.0,240.5 554.1,245.6 C555.2,250.7 555.8,255.7 556.4,260.8 C557.0,265.9 557.3,271.5 557.9,276.1 C558.5,280.7 559.3,285.0 560.2,288.3 C561.1,291.6 562.8,294.7 563.3,296.0" stroke="#385f6f" stroke-width="5.49"/>
<path d="M591.0,197.8 C592.4,197.4 596.2,196.2 599.2,195.6 C602.2,195.1 605.7,194.5 609.0,194.6 C612.2,194.7 615.7,194.9 618.7,196.2 C621.8,197.5 625.2,199.6 627.3,202.3 C629.3,204.9 630.4,208.7 631.0,212.1 C631.6,215.5 631.3,219.8 630.8,222.8 C630.4,225.9 629.5,226.5 628.2,230.3 C626.9,234.1 624.3,240.5 622.9,245.6 C621.5,250.7 620.6,255.7 619.8,260.8 C619.0,265.9 618.9,271.5 618.3,276.1 C617.7,280.7 616.9,285.0 616.0,288.3 C615.1,291.6 613.4,294.7 612.9,296.0" stroke="#385f6f" stroke-width="5.49"/>
</g>
<path d="M579,178 C577,200 569,222 566.6,240 C565.2,252 564.8,262 564.8,272.3" stroke="#385f6f" stroke-width="6" stroke-linecap="butt" fill="none"/>
<path d="M 589.9,164.2 L 652.8,166.9 L 652.8,182.8 L 622.5,181.4 L 589.9,173.5 Z" fill="#385f6f" stroke="#385f6f" stroke-width="1.5" stroke-linejoin="round"/>
<path d="M 592.2,168.6 L 622.5,170.8 L 622.5,177.2 Z" fill="#7cc3ea"/>
<path d="M 628.1,172.2 L 647.5,172.2 L 647.5,178.3 L 628.1,178.3 Z" fill="#a8d6f3"/>
<path d="M 569.0,179.7 L 569.0,161.7 C 569.0,156.8 572.5,154.4 579.4,154.4 C 586.4,154.4 589.9,156.8 589.9,161.7 L 589.9,179.7 Z" fill="#385f6f" stroke="#385f6f" stroke-width="1" stroke-linejoin="round"/>
<path d="M 573.9,175.6 L 573.9,164.4 C 573.9,161.0 576.0,159.6 579.4,159.6 C 582.9,159.6 585.0,161.0 585.0,164.4 L 585.0,175.6 Z" fill="#a8d6f3"/>
<path d="M 56.7,548.8 L 187.8,548.8 L 187.8,559.4 C 186.7,587.2 164.4,606.6 122.2,609.7 C 80.0,606.6 57.8,587.2 56.7,559.4 Z" fill="#f4a7c2"/>
<path d="M 56.7,548.1 L 187.8,548.1" stroke="#385f6f" stroke-width="5" fill="none"/>
<path d="M 136.0,493.2 C 132.2,489.4 127.8,485.7 117.8,483.4 C 104.4,481.2 91.1,481.2 82.2,484.3 C 73.3,488.3 68.9,495.0 69.3,506.1 C 69.8,517.2 76.7,528.3 82.2,541.7 C 85.6,555.0 87.8,568.3 90.0,579.4 C 91.6,590.6 94.4,598.3 98.2,600.6 L 106.7,598.3 C 108.9,588.3 113.3,568.3 116.7,555.0 C 118.2,548.8 120.4,547.2 122.2,547.2 C 124.0,547.2 126.2,548.8 127.8,555.0 C 131.1,568.3 135.6,588.3 137.8,598.3 L 146.2,600.6 C 150.0,598.3 152.9,590.6 154.4,579.4 C 156.7,568.3 157.8,555.0 161.1,541.7 C 165.6,528.3 169.8,517.2 169.8,506.1 C 169.8,493.9 163.3,486.1 151.1,484.3 C 142.2,483.2 133.3,483.7 127.8,485.2 Z" fill="#f0eee6"/>
<path d="M 82.2,487.2 C 76.7,490.6 73.8,497.2 74.4,506.1 C 75.1,517.2 81.1,528.3 86.7,541.7 C 89.3,552.8 91.6,568.3 93.3,579.4 L 98.2,579.4 C 98.2,559.4 99.6,528.3 103.3,487.2 Z" fill="#fff"/>
<path d="M 99.6,600.6 C 96.7,586.1 95.6,568.3 97.3,550.6 C 98.9,535.0 104.4,522.8 115.6,519.9 C 128.9,517.2 141.1,520.6 146.7,530.6 C 152.2,541.7 152.2,559.4 151.1,572.8 C 150.0,586.1 147.8,595.0 146.2,600.6" fill="none" stroke="#f08ea8" stroke-width="5.2" stroke-linecap="round"/>
<path d="M 97.3,552.8 C 96.0,568.3 96.9,586.1 99.6,600.6" fill="none" stroke="#f08ea8" stroke-width="5.8" stroke-linecap="round"/>
<path d="M 151.6,559.4 C 151.1,575.0 149.3,590.6 146.2,600.6" fill="none" stroke="#f08ea8" stroke-width="5.8" stroke-linecap="round"/>
<path d="M 103.3,539.4 C 106.7,533.9 112.2,531.7 117.8,531.0" fill="none" stroke="#f08ea8" stroke-width="4" stroke-linecap="round"/>
<path d="M 132.2,539.4 C 137.8,543.9 142.2,550.6 144.0,559.4" fill="none" stroke="#f08ea8" stroke-width="4" stroke-linecap="round"/>
<path d="M 106.2,470.6 L 97.1,552.8" fill="none" stroke="#385f6f" stroke-width="4.2" stroke-linecap="round"/>
<path d="M 106.7,599.4 C 109.3,588.3 113.3,568.3 116.7,556.1 C 118.2,549.4 120.4,547.4 122.2,547.4 C 124.0,547.4 126.2,549.4 127.8,556.1 C 131.1,568.3 135.1,588.3 137.8,599.4" fill="none" stroke="#385f6f" stroke-width="7" stroke-linecap="round" stroke-linejoin="round"/>
<path d="M 136.0,493.2 C 132.2,489.4 127.8,485.7 117.8,483.4 C 104.4,481.2 91.1,481.2 82.2,484.3 C 73.3,488.3 68.9,495.0 69.3,506.1 C 69.8,517.2 76.7,528.3 82.2,541.7 C 85.6,555.0 87.8,568.3 90.0,579.4 C 91.6,590.6 94.4,598.3 98.2,600.6" fill="none" stroke="#385f6f" stroke-width="7.5" stroke-linecap="round" stroke-linejoin="round"/>
<path d="M 125.6,485.7 C 133.3,483.7 142.2,483.2 151.1,484.3 C 163.3,486.1 169.8,493.9 169.8,506.1 C 169.8,517.2 165.6,528.3 161.1,541.7 C 157.8,555.0 156.7,568.3 154.4,579.4 C 152.9,590.6 150.0,598.3 146.2,600.6" fill="none" stroke="#385f6f" stroke-width="7.5" stroke-linecap="round" stroke-linejoin="round"/>
<path d="M 118.3,451.0 C 128.3,451.7 140.0,454.7 151.7,458.0 C 163.3,459.3 175.0,456.7 185.3,455.5 L 185.7,470.3 C 175.0,471.0 163.3,471.7 151.7,469.3 C 140.0,465.0 128.3,461.7 118.3,460.3 Z" fill="#1486d2" stroke="#385f6f" stroke-width="3.6" stroke-linejoin="round"/>
<path d="M 122.5,460.0 C 133.3,461.0 141.7,463.3 150.0,465.7 C 160.0,464.3 171.7,460.7 183.7,459.0 L 183.7,468.0 C 175.0,469.0 163.3,469.3 153.3,468.0 C 143.3,465.0 133.3,462.3 122.5,460.0 Z" fill="#d6eaf7"/>
<circle cx="160.8" cy="465.3" r="2.7" fill="#385f6f"/>
<path d="M 160.8,465.3 L 160.8,469.7" stroke="#385f6f" stroke-width="3" fill="none"/>
<path d="M 98.7,466.7 L 99.0,451.7 C 99.3,448.0 101.7,447.0 107.5,447.0 C 113.3,447.0 116.0,448.0 116.3,451.7 L 117.0,466.7 C 116.7,468.3 116.0,468.8 114.3,468.8 L 101.0,468.8 C 99.3,468.8 98.8,468.3 98.7,466.7 Z" fill="#a8d6f3" stroke="#385f6f" stroke-width="4.2" stroke-linejoin="round"/>
<path d="M 101.0,460.0 C 101.0,452.5 102.5,449.7 112.5,449.3 C 111.7,455.0 107.5,459.2 101.0,460.0 Z" fill="#0a96e0"/>
<path d="M315.0,530.7 H432.0 Q436.5,530.7 436.5,535.2 V552.5 C436.5,584.6 412.6,603.5 373.5,603.5 C334.4,603.5 310.5,584.6 310.5,552.5 V535.2 Q310.5,530.7 315.0,530.7 Z" fill="#fb8a9b"/>
<path d="M315.0,530.7 H432.0 Q436.5,530.7 436.5,535.2 V536.2 H310.5 V535.2 Q310.5,530.7 315.0,530.7 Z" fill="#f2707f"/>
<path d="M 339.2,528.5 C 337.9,544.2 338.5,556.7 340.6,567.1 C 342.7,576.5 346.9,582.7 352.1,584.8 C 357.3,583.8 361.5,575.4 364.6,560.8 C 366.7,550.4 369.8,542.1 373.3,540.6 C 377.1,542.1 380.2,550.4 382.3,560.8 C 385.4,575.4 388.5,583.8 394.2,584.8 C 400.0,582.7 405.2,576.5 406.7,567.1 C 409.4,556.7 409.4,544.2 408.3,528.5 Z" fill="#f0eee6"/>
<path d="M 339.2,528.5 C 337.9,544.2 338.5,556.7 340.6,567.1 C 342.7,575.4 345.8,581.2 350.4,583.8" fill="none" stroke="#385f6f" stroke-width="4.8" stroke-linecap="round"/>
<path d="M 408.3,528.5 C 409.4,544.2 409.4,556.7 406.7,567.1 C 404.8,575.4 401.7,581.2 397.1,583.8" fill="none" stroke="#385f6f" stroke-width="4.8" stroke-linecap="round"/>
<circle cx="353.3" cy="585.8" r="3" fill="#f0717f"/>
<circle cx="393.8" cy="585.8" r="3" fill="#f0717f"/>
<path d="M 375.0,480.4 C 369.8,475.0 360.4,472.9 350.0,473.3 C 335.0,473.8 326.7,481.7 327.1,494.6 C 327.5,509.8 336.7,517.5 339.6,528.5 L 407.9,528.5 C 411.2,517.5 421.2,509.8 421.2,495.2 C 421.7,482.7 414.2,474.6 399.6,474.2 C 389.6,474.2 380.2,475.8 375.0,480.4 Z" fill="#f0eee6" stroke="#385f6f" stroke-width="5.4" stroke-linejoin="round"/>
<circle cx="347.0" cy="488.3" r="15" fill="url(#glow)"/>
<path d="M344.5,448.3 L346.9,486.3 L360.5,489.3 L346.9,492.3 L344.5,504.3 L342.1,491.5 L311.5,489.3 L342.1,487.1 Z" fill="#fff"/>
<path d="M332.5,477.3 L345.9,487.9 L351.5,496.3 L343.1,490.7 Z" fill="#fff"/>
<rect x="537.5" y="518" width="55" height="63.5" rx="2.5" fill="#385f6f"/>
<g transform="rotate(4 560 512)"><rect x="539.5" y="502" width="42.5" height="20" rx="1.5" fill="#f16b78"/><rect x="542.0" y="504.5" width="2" height="15" fill="#f68e98"/><rect x="546.6" y="504.5" width="2" height="15" fill="#f68e98"/><rect x="551.2" y="504.5" width="2" height="15" fill="#f68e98"/><rect x="555.8" y="504.5" width="2" height="15" fill="#f68e98"/><rect x="560.4" y="504.5" width="2" height="15" fill="#f68e98"/><rect x="565.0" y="504.5" width="2" height="15" fill="#f68e98"/><rect x="569.6" y="504.5" width="2" height="15" fill="#f68e98"/><rect x="574.2" y="504.5" width="2" height="15" fill="#f68e98"/><rect x="578.8" y="504.5" width="2" height="15" fill="#f68e98"/></g>
<path d="M569.5,546.5 L583,540.5" stroke="#c9202f" stroke-width="9" stroke-linecap="round"/><path d="M569.5,546.5 L576.25,543.5" stroke="#f0eee6" stroke-width="9" stroke-linecap="butt"/><circle cx="569.5" cy="546.5" r="4.5" fill="#f0eee6"/>
<path d="M545.5,569.5 L545.5,555" stroke="#c9202f" stroke-width="9" stroke-linecap="round"/><path d="M545.5,569.5 L545.5,562.25" stroke="#f0eee6" stroke-width="9" stroke-linecap="butt"/><circle cx="545.5" cy="569.5" r="4.5" fill="#f0eee6"/>
<path d="M555.5,554 L566,559" stroke="#c9202f" stroke-width="8.5" stroke-linecap="round"/><path d="M555.5,554 L560.75,556.5" stroke="#f0eee6" stroke-width="8.5" stroke-linecap="butt"/><circle cx="555.5" cy="554" r="4.25" fill="#f0eee6"/>
<path d="M568.5,570 L568.5,560" stroke="#c9202f" stroke-width="10.5" stroke-linecap="round"/><path d="M568.5,570 L568.5,565.0" stroke="#c9202f" stroke-width="10.5" stroke-linecap="butt"/><circle cx="568.5" cy="570" r="5.25" fill="#c9202f"/>
<path d="M580,568.5 L580,555" stroke="#c9202f" stroke-width="9" stroke-linecap="round"/><path d="M580,568.5 L580.0,561.75" stroke="#f0eee6" stroke-width="9" stroke-linecap="butt"/><circle cx="580" cy="568.5" r="4.5" fill="#f0eee6"/>
<path d="M555.5,572.5 L567,570" stroke="#c9202f" stroke-width="8.5" stroke-linecap="round"/><path d="M555.5,572.5 L561.25,571.25" stroke="#f0eee6" stroke-width="8.5" stroke-linecap="butt"/><circle cx="555.5" cy="572.5" r="4.25" fill="#f0eee6"/>
<g transform="translate(624.5 588.5) rotate(-7)">
<rect x="-17" y="-141" width="29.5" height="36" rx="1.5" fill="#385f6f"/>
<rect x="-12.60" y="-136.5" width="1.8" height="24" fill="#f0eee6"/>
<rect x="-9.50" y="-136.5" width="1.8" height="24" fill="#f0eee6"/>
<rect x="-6.40" y="-136.5" width="1.8" height="24" fill="#f0eee6"/>
<rect x="-3.30" y="-136.5" width="1.8" height="24" fill="#f0eee6"/>
<rect x="-0.20" y="-136.5" width="1.8" height="24" fill="#f0eee6"/>
<rect x="2.90" y="-136.5" width="1.8" height="24" fill="#f0eee6"/>
<rect x="6.00" y="-136.5" width="1.8" height="24" fill="#f0eee6"/>
<rect x="-13" y="-109.5" width="23" height="5.5" fill="#f0eee6"/>
<rect x="-33.5" y="-101" width="63" height="31" rx="6" fill="#385f6f"/>
<rect x="-31" y="-78" width="62" height="54" rx="2" fill="#385f6f"/>
<rect x="-32.5" y="-32" width="65.5" height="30" rx="6" fill="#385f6f"/>
<rect x="-30" y="-97.5" width="56" height="23.5" rx="3.5" fill="#f0eee6"/>
<rect x="-2.6" y="-97.5" width="1.2" height="23.5" fill="#dcd9cf"/>
<rect x="-27.5" y="-70.5" width="55" height="40.5" fill="#f0eee6"/>
<rect x="-29" y="-26.5" width="58.5" height="21" rx="3.5" fill="#f0eee6"/>
<path d="M0,-66.5 C-5,-71 -15,-71 -18.5,-63.5 C-20.5,-54.5 -14,-46 -10.5,-33 L-4,-44 L4,-44 L10.5,-33 C14,-46 20.5,-54.5 18.5,-63.5 C15,-71 5,-71 0,-66.5 Z" fill="none" stroke="#385f6f" stroke-width="4.6" stroke-linejoin="round"/>
</g>
<text class="l" y="377.2"><tspan x="66.17" textLength="117.10" lengthAdjust="spacingAndGlyphs">Diagnosis</tspan></text>
<text class="l" y="373.8"><tspan x="280.67" textLength="130.81" lengthAdjust="spacingAndGlyphs">Anesthesia</tspan> <tspan x="417.90" textLength="18.98" lengthAdjust="spacingAndGlyphs">&amp;</tspan></text>
<text class="l" y="404.4"><tspan x="286.99" textLength="79.82" lengthAdjust="spacingAndGlyphs">Dental</tspan> <tspan x="373.13" textLength="57.27" lengthAdjust="spacingAndGlyphs">Dam</tspan></text>
<text class="l" y="373.1"><tspan x="492.90" textLength="52.49" lengthAdjust="spacingAndGlyphs">Pulp</tspan> <tspan x="553.11" textLength="102.90" lengthAdjust="spacingAndGlyphs">Removal</tspan> <tspan x="663.46" textLength="17.90" lengthAdjust="spacingAndGlyphs">&amp;</tspan></text>
<text class="l" y="404.0"><tspan x="498.93" textLength="66.50" lengthAdjust="spacingAndGlyphs">Canal</tspan> <tspan x="572.98" textLength="104.57" lengthAdjust="spacingAndGlyphs">Cleaning</tspan></text>
<text class="l" y="669.2"><tspan x="51.62" textLength="67.02" lengthAdjust="spacingAndGlyphs">Canal</tspan> <tspan x="125.49" textLength="68.95" lengthAdjust="spacingAndGlyphs">Filling</tspan></text>
<text class="l" y="669.7"><tspan x="233.97" textLength="71.68" lengthAdjust="spacingAndGlyphs">Tooth</tspan> <tspan x="311.56" textLength="70.00" lengthAdjust="spacingAndGlyphs">Filling</tspan> <tspan x="387.44" textLength="18.22" lengthAdjust="spacingAndGlyphs">&amp;</tspan> <tspan x="412.95" textLength="77.89" lengthAdjust="spacingAndGlyphs">Crown</tspan></text>
<text class="l" y="669.6"><tspan x="535.06" textLength="57.80" lengthAdjust="spacingAndGlyphs">After</tspan> <tspan x="600.84" textLength="54.42" lengthAdjust="spacingAndGlyphs">Care</tspan></text>
</svg>
</body>
</html>
